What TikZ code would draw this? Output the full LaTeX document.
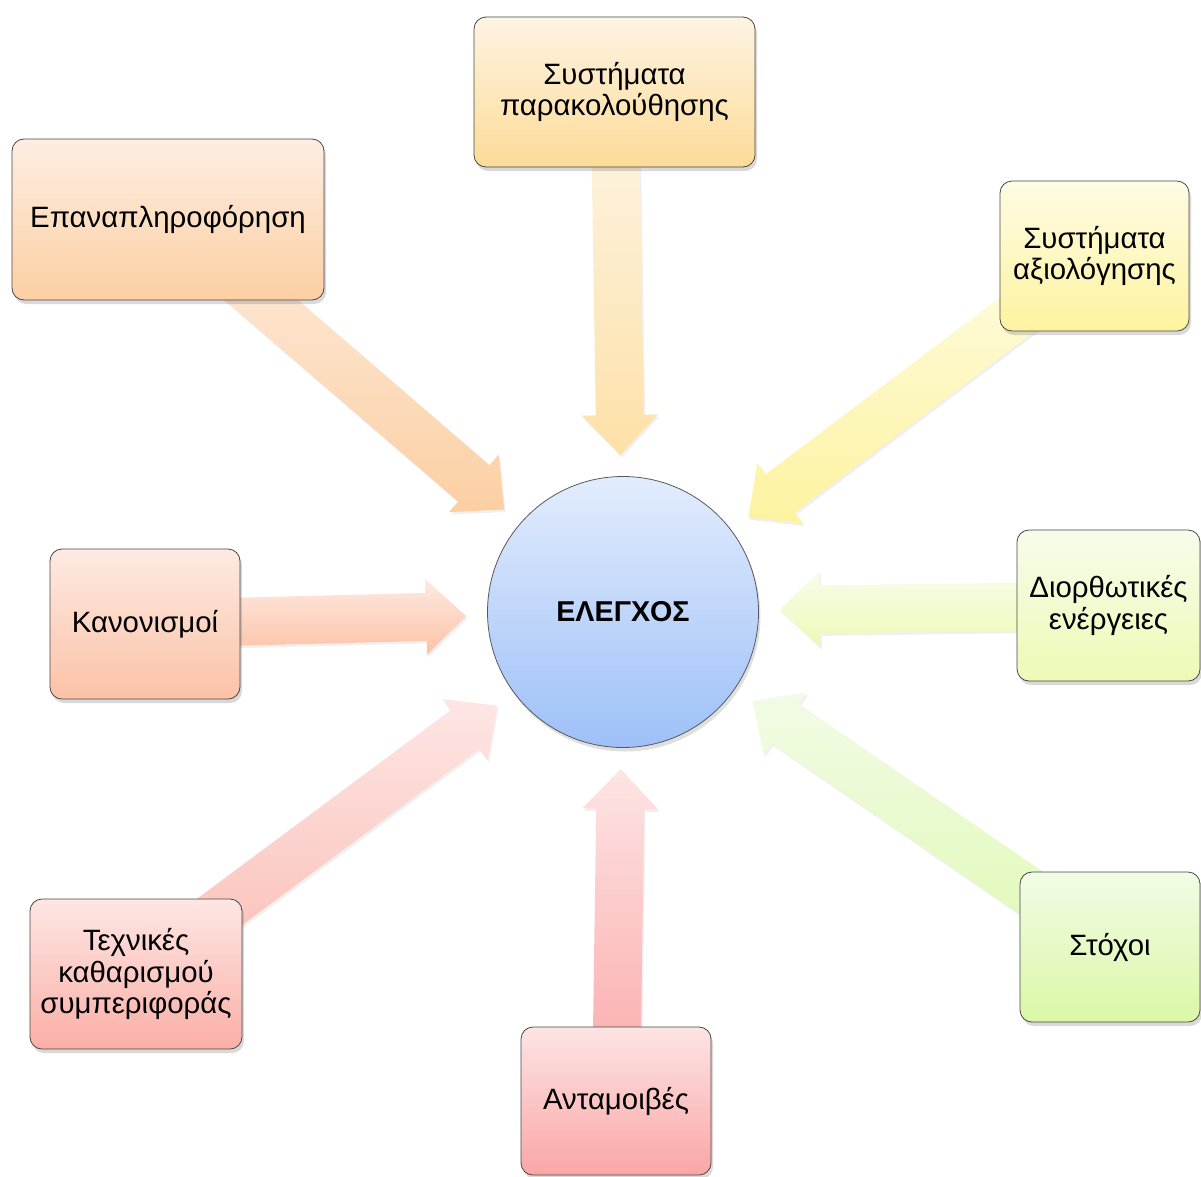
\documentclass[tikz,border=0pt]{standalone}
\usepackage{fontspec}
\setmainfont{Liberation Sans}
\usetikzlibrary{calc,shadows,backgrounds}
\definecolor{monT}{HTML}{FEF4E2}\definecolor{monB}{HTML}{FCDB98}
\definecolor{feedT}{HTML}{FDEEE2}\definecolor{feedB}{HTML}{FCCFA2}
\definecolor{evalT}{HTML}{FEFCE4}\definecolor{evalB}{HTML}{FDF3A0}
\definecolor{rulT}{HTML}{FDEAE2}\definecolor{rulB}{HTML}{FCC2A6}
\definecolor{corT}{HTML}{F7FCEA}\definecolor{corB}{HTML}{EDFAB6}
\definecolor{tecT}{HTML}{FDE6E4}\definecolor{tecB}{HTML}{FBAFA6}
\definecolor{rewT}{HTML}{FDE4E4}\definecolor{rewB}{HTML}{FBA6A6}
\definecolor{goaT}{HTML}{F2FBE6}\definecolor{goaB}{HTML}{DAF8A6}
\definecolor{cirT}{HTML}{E2ECFD}\definecolor{cirB}{HTML}{9EC0F8}
\tikzset{
  box/.style={rectangle, rounded corners=12pt, draw=black!72, line width=0.8pt,
    align=center, inner sep=0pt, font=\fontsize{29.4}{31.5}\selectfont,
    drop shadow={opacity=0.3, shadow xshift=2pt, shadow yshift=-4pt}},
  arr/.style={drop shadow={opacity=0.12, shadow xshift=1.5pt, shadow yshift=-2.5pt}},
}
\newcommand\blkarrow[5]{%
  \coordinate (#3t) at ($(#2.center)!157pt!(#1.center)$);
  \coordinate (#3h) at ($(#3t)!40pt!(#1.center)$);
  \path[arr, top color=#4, bottom color=#5]
    ($(#1.center)!24pt!90:(#3t)$) -- ($(#3h)!24pt!90:(#3t)$) --
    ($(#3h)!38pt!90:(#3t)$) -- (#3t) -- ($(#3h)!38pt!-90:(#3t)$) --
    ($(#3h)!24pt!-90:(#3t)$) -- ($(#1.center)!24pt!-90:(#3t)$) -- cycle;
}
\begin{document}
\begin{tikzpicture}[x=1pt,y=-1pt]
\useasboundingbox (0,0) rectangle (1201,1176);
\node[box, minimum width=281pt, minimum height=150pt, top color=monT, bottom color=monB] (mon) at (614.5,92) {Συστήματα\\παρακολούθησης};
\node[box, minimum width=312pt, minimum height=161pt, top color=feedT, bottom color=feedB] (feed) at (168,219.5) {Επαναπληροφόρηση};
\node[box, minimum width=189pt, minimum height=150pt, top color=evalT, bottom color=evalB] (eval) at (1094.5,256) {Συστήματα\\αξιολόγησης};
\node[box, minimum width=190pt, minimum height=150pt, top color=rulT, bottom color=rulB] (rules) at (145,624) {Κανονισμοί};
\node[box, minimum width=183pt, minimum height=151pt, top color=corT, bottom color=corB] (corr) at (1108.5,605.5) {Διορθωτικές\\ενέργειες};
\node[box, minimum width=212pt, minimum height=150pt, top color=tecT, bottom color=tecB] (tech) at (136,974) {Τεχνικές\\καθαρισμού\\συμπεριφοράς};
\node[box, minimum width=190pt, minimum height=148pt, top color=rewT, bottom color=rewB] (rew) at (616,1101) {Ανταμοιβές};
\node[box, minimum width=180pt, minimum height=150pt, top color=goaT, bottom color=goaB] (goals) at (1110,947) {Στόχοι};
\node[circle, minimum size=271pt, inner sep=0pt, draw=black!65, line width=0.8pt,
  top color=cirT, bottom color=cirB, font=\fontsize{28.7}{31}\selectfont\bfseries,
  drop shadow={opacity=0.25, shadow xshift=2pt, shadow yshift=-4pt}] (ctl) at (623,612) {ΕΛΕΓΧΟΣ};
\begin{pgfonlayer}{background}
\blkarrow{mon}{ctl}{a1}{monT!80!white}{monB!85!white}
\blkarrow{feed}{ctl}{a2}{feedT}{feedB}
\blkarrow{eval}{ctl}{a3}{evalT}{evalB}
\blkarrow{rules}{ctl}{a4}{rulT}{rulB}
\blkarrow{corr}{ctl}{a5}{corT}{corB}
\blkarrow{tech}{ctl}{a6}{tecT}{tecB!85!white}
\blkarrow{rew}{ctl}{a7}{rewT}{rewB}
\blkarrow{goals}{ctl}{a8}{goaT}{goaB!85!white}
\end{pgfonlayer}
\end{tikzpicture}
\end{document}
